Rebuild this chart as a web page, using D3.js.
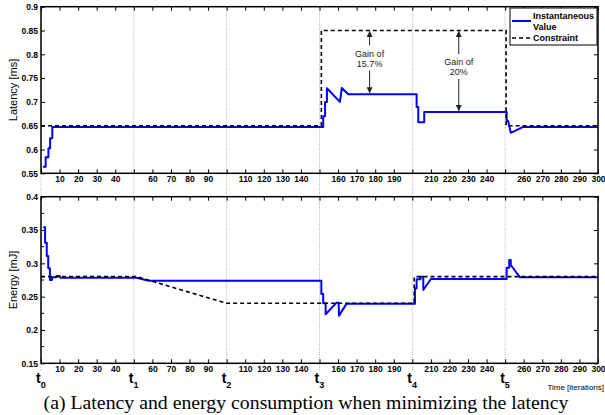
<!DOCTYPE html>
<html>
<head>
<meta charset="utf-8">
<script src="https://cdn.jsdelivr.net/npm/d3@7"></script>
<style>
  body { margin: 0; background: #fff; }
  svg { display: block; font-family: "Liberation Sans", Arial, sans-serif; }
  .tick text { font-weight: bold; font-size: 8.5px; fill: #000; }
  .tick line { stroke: #000; stroke-width: 1; }
</style>
</head>
<body>
<svg id="chart" width="605" height="415"></svg>
<script>
    // latency, instantaneous value (iteration, ms)
    const latIter  = [1, 2.5, 2.5, 4, 4, 4.9, 4.9, 6.1, 6.1, 152, 152, 153, 153, 154, 154, 161, 162, 165.5,
                      202.3, 202.3, 203.2, 203.2, 206.4, 206.4, 250.8, 250.8, 251.6, 253, 259.7, 300];
    const latValue = [0.5636, 0.5636, 0.5836, 0.5836, 0.6025, 0.6025, 0.6235, 0.6235, 0.6475, 0.6475, 0.670, 0.670, 0.700, 0.700, 0.7286, 0.700, 0.729, 0.716,
                      0.716, 0.6895, 0.6895, 0.657, 0.657, 0.679, 0.679, 0.660, 0.660, 0.635, 0.6475, 0.6475];
    // latency constraint
    const latConIter  = [0, 151, 151, 250.5, 250.5, 300];
    const latConValue = [0.65, 0.65, 0.85, 0.85, 0.65, 0.65];

    // energy, instantaneous value (iteration, mJ)
    const enIter  = [1.2, 2.2, 2.2, 3.1, 3.1, 3.9, 3.9, 4.8, 4.8, 5.8, 6, 8, 8.5, 10, 10.5, 51.5, 58, 151,
                     151, 152, 152, 153.3, 153.3, 159.2, 160.3, 160.5, 164.6, 201.4, 201.4, 202.3, 202.3, 204.4, 204.4,
                     205.9, 205.9, 210, 250.8, 250.8, 252.2, 252.2, 253, 253, 258, 300];
    const enValue = [0.354, 0.354, 0.331, 0.331, 0.311, 0.311, 0.2926, 0.2926, 0.275, 0.275, 0.279, 0.279, 0.281, 0.281, 0.2785, 0.2785, 0.274, 0.274,
                     0.254, 0.254, 0.240, 0.240, 0.2236, 0.241, 0.241, 0.2215, 0.2395, 0.2395, 0.2625, 0.2625, 0.276, 0.276, 0.280,
                     0.280, 0.260, 0.2765, 0.2765, 0.2935, 0.2935, 0.305, 0.305, 0.2975, 0.279, 0.279];
    // energy constraint
    const enConIter  = [0, 51.5, 100, 201, 201, 300];
    const enConValue = [0.28, 0.28, 0.24, 0.24, 0.28, 0.28];

    const xTicks = d3.range(0, 301, 10);
    const xLabelSkip = [0, 50, 100, 150, 200, 250];
    const phaseIter = [0, 50, 100, 150, 200, 250];
    const phaseLabel = ["0", "1", "2", "3", "4", "5"];
    const latTicks = [0.55, 0.6, 0.65, 0.7, 0.75, 0.8, 0.85, 0.9];
    const enTicks = [0.15, 0.2, 0.25, 0.3, 0.35, 0.4];
    const enMinor = [0.175, 0.225, 0.275, 0.325, 0.375];

    const gainIter = [177, 225];
    const gainText = [["Gain of", "15.7%"], ["Gain of", "20%"]];
    const gainLow = [0.716, 0.679];

    let svg = d3.select('#chart');

    let x = d3.scaleLinear().domain([0, 300]).range([41, 598]);
    let yLat = d3.scaleLinear().domain([0.55, 0.9]).range([173.3, 6.7]);
    let yEn = d3.scaleLinear().domain([0.15, 0.4]).range([363.3, 196.7]);

    let defs = svg.append('defs');
    defs.append('marker')
        .attr('id', 'arrow')
        .attr('viewBox', '0 0 10 10')
        .attr('refX', 10).attr('refY', 5)
        .attr('markerWidth', 7).attr('markerHeight', 6)
        .attr('markerUnits', 'userSpaceOnUse')
        .attr('orient', 'auto')
        .append('path')
        .attr('d', 'M0,0L10,5L0,10Z')
        .style('fill', '#222');

    // dotted phase lines across both panels
    svg.append('g').selectAll('line')
        .data(phaseIter)
        .enter().append('line')
        .attr('x1', d => x(d)).attr('x2', d => x(d))
        .attr('y1', 6.7).attr('y2', 372)
        .style('stroke', '#aaa')
        .style('stroke-width', 1)
        .style('stroke-dasharray', '1,1.5');

    function panel(y, yTickValues, conIter, conValue, iter, value) {
        let g = svg.append('g');
        let top = y.range()[1], bottom = y.range()[0];

        g.append('g')
            .attr('transform', 'translate(0,' + bottom + ')')
            .call(d3.axisBottom(x).tickValues(xTicks).tickSize(-4).tickSizeOuter(0).tickPadding(3)
                .tickFormat(d => xLabelSkip.includes(d) ? '' : d));
        g.append('g')
            .attr('transform', 'translate(0,' + top + ')')
            .call(d3.axisTop(x).tickValues(xTicks).tickSize(-4).tickSizeOuter(0).tickFormat(''));
        g.append('g')
            .attr('transform', 'translate(41,0)')
            .call(d3.axisLeft(y).tickValues(yTickValues).tickSize(-4).tickSizeOuter(0).tickPadding(3)
                .tickFormat(d => String(+d.toFixed(3))));
        g.append('g')
            .attr('transform', 'translate(598,0)')
            .call(d3.axisRight(y).tickValues(yTickValues).tickSize(-4).tickSizeOuter(0).tickFormat(''));
        g.selectAll('.domain').remove();

        let line = d3.line().x(d => x(d[0])).y(d => y(d[1]));
        g.append('path')
            .datum(d3.zip(iter, value))
            .attr('d', line)
            .style('fill', 'none')
            .style('stroke', '#0000ff')
            .style('stroke-width', 2)
            .style('stroke-linejoin', 'round');
        g.append('path')
            .datum(d3.zip(conIter, conValue))
            .attr('d', line)
            .style('fill', 'none')
            .style('stroke', '#000')
            .style('stroke-width', 1.6)
            .style('stroke-dasharray', '4,3');

        g.append('rect')
            .attr('x', 41).attr('y', top)
            .attr('width', 557).attr('height', bottom - top)
            .style('fill', 'none')
            .style('stroke', '#000')
            .style('stroke-width', 1.5);
        return g;
    }

    panel(yLat, latTicks, latConIter, latConValue, latIter, latValue);
    let gEn = panel(yEn, enTicks, enConIter, enConValue, enIter, enValue);

    // minor ticks on the energy axis
    gEn.append('g').selectAll('line')
        .data(enMinor)
        .enter().append('line')
        .attr('x1', 41).attr('x2', 44)
        .attr('y1', d => yEn(d)).attr('y2', d => yEn(d))
        .style('stroke', '#000');

    // axis titles
    svg.append('text')
        .attr('transform', 'translate(17,' + yLat(0.725) + ') rotate(-90)')
        .attr('text-anchor', 'middle')
        .style('font-size', '11px')
        .text('Latency [ms]');
    svg.append('text')
        .attr('transform', 'translate(17,' + yEn(0.275) + ') rotate(-90)')
        .attr('text-anchor', 'middle')
        .style('font-size', '11px')
        .text('Energy [mJ]');
    svg.append('text')
        .attr('x', 604).attr('y', 390)
        .attr('text-anchor', 'end')
        .style('font-size', '8px')
        .text('Time [iterations]');

    // phase labels t0..t5
    let tl = svg.append('g').selectAll('text')
        .data(phaseIter)
        .enter().append('text')
        .attr('x', d => x(d) - 5)
        .attr('y', 383)
        .style('font-weight', 'bold')
        .style('font-size', '14px');
    tl.append('tspan').text('t');
    tl.append('tspan')
        .attr('dy', 5)
        .style('font-size', '9px')
        .text((d, i) => phaseLabel[i]);

    // gain annotations
    let ann = svg.append('g').selectAll('g')
        .data(gainIter)
        .enter().append('g');
    ann.each(function (d, i) {
        let a = d3.select(this);
        let cx = x(d);
        let ty = i === 0 ? 56.5 : 65;
        a.append('text')
            .attr('x', cx).attr('y', ty)
            .attr('text-anchor', 'middle')
            .style('font-size', '9px')
            .style('fill', '#222')
            .text(gainText[i][0]);
        a.append('text')
            .attr('x', cx).attr('y', ty + 10)
            .attr('text-anchor', 'middle')
            .style('font-size', '9px')
            .style('fill', '#222')
            .text(gainText[i][1]);
        a.append('line')
            .attr('x1', cx).attr('x2', cx)
            .attr('y1', ty - 11).attr('y2', yLat(0.85) + 0.5)
            .attr('marker-end', 'url(#arrow)')
            .style('stroke', '#222');
        a.append('line')
            .attr('x1', cx).attr('x2', cx)
            .attr('y1', ty + 14).attr('y2', yLat(gainLow[i]) - 1)
            .attr('marker-end', 'url(#arrow)')
            .style('stroke', '#222');
    });

    // legend
    let lg = svg.append('g');
    lg.append('rect')
        .attr('x', 510).attr('y', 8).attr('width', 87).attr('height', 37)
        .style('fill', '#fff').style('stroke', '#000').style('stroke-width', 1);
    lg.append('line')
        .attr('x1', 512).attr('x2', 531).attr('y1', 21).attr('y2', 21)
        .style('stroke', '#0000ff').style('stroke-width', 2);
    lg.append('line')
        .attr('x1', 512).attr('x2', 531).attr('y1', 38).attr('y2', 38)
        .style('stroke', '#000').style('stroke-width', 1.6).style('stroke-dasharray', '4,3');
    [['Instantaneous', 19], ['Value', 30], ['Constraint', 41]].forEach(function (t) {
        lg.append('text')
            .attr('x', 533).attr('y', t[1])
            .style('font-size', '9px').style('font-weight', 'bold')
            .text(t[0]);
    });

    // caption
    svg.append('text')
        .attr('x', 306).attr('y', 409)
        .attr('text-anchor', 'middle')
        .style('font-family', '"Liberation Serif", "Times New Roman", serif')
        .style('font-size', '19.8px')
        .text('(a) Latency and energy consumption when minimizing the latency');
</script>
</body>
</html>
